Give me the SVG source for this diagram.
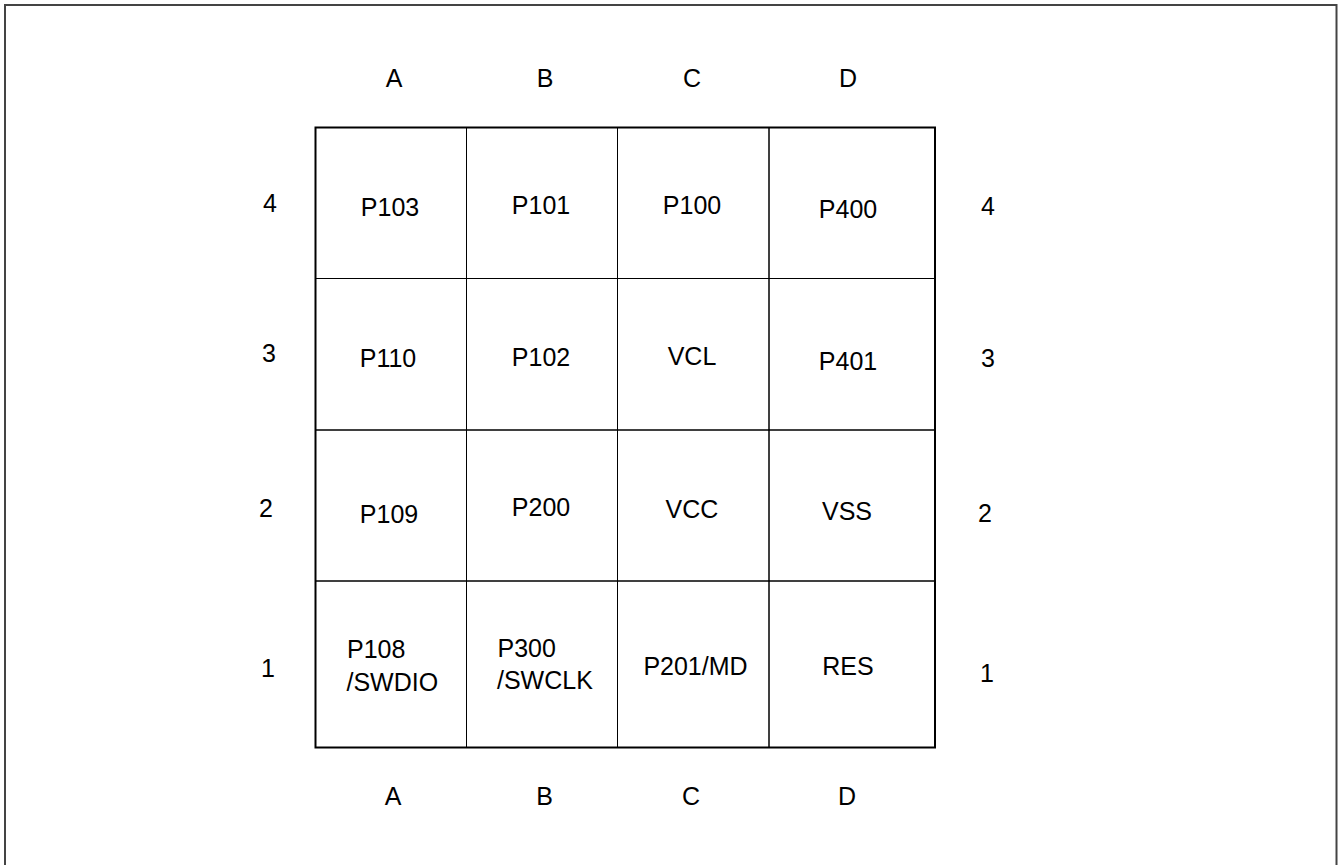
<svg xmlns="http://www.w3.org/2000/svg" width="1341" height="865" viewBox="0 0 1341 865">
<style>
text{font-family:"Liberation Sans",Arial,sans-serif;font-size:25px;fill:#000}
.c{text-anchor:middle}
.cell{fill:none;stroke:#000;stroke-width:1}
</style>
<rect width="1341" height="865" fill="#fff"/>
<rect x="5" y="5" width="1331.5" height="875" fill="none" stroke="#444" stroke-width="2"/>
<g id="labels">
<text class="c" x="394" y="87">A</text>
<text class="c" x="545" y="87">B</text>
<text class="c" x="692" y="87">C</text>
<text class="c" x="848" y="87">D</text>
<text class="c" x="393" y="805">A</text>
<text class="c" x="544.5" y="805">B</text>
<text class="c" x="691" y="805">C</text>
<text class="c" x="847" y="805">D</text>
<text class="c" x="270" y="212">4</text>
<text class="c" x="269" y="362">3</text>
<text class="c" x="266" y="517">2</text>
<text class="c" x="268" y="677">1</text>
<text class="c" x="988" y="215">4</text>
<text class="c" x="988" y="367">3</text>
<text class="c" x="985" y="522">2</text>
<text class="c" x="987" y="682">1</text>
</g>
<g id="grid">
<g id="A4"><rect class="cell" x="315.5" y="127.5" width="151" height="151"/><text class="c" x="390" y="216">P103</text></g>
<g id="B4"><rect class="cell" x="466.5" y="127.5" width="151" height="151"/><text class="c" x="541" y="214">P101</text></g>
<g id="C4"><rect class="cell" x="617.5" y="127.5" width="151.5" height="151"/><text class="c" x="692" y="214">P100</text></g>
<g id="D4"><rect class="cell" x="769" y="127.5" width="166" height="151"/><text class="c" x="848" y="218">P400</text></g>
<g id="A3"><rect class="cell" x="315.5" y="278.5" width="151" height="151.5"/><text class="c" x="388" y="367">P110</text></g>
<g id="B3"><rect class="cell" x="466.5" y="278.5" width="151" height="151.5"/><text class="c" x="541" y="366">P102</text></g>
<g id="C3"><rect class="cell" x="617.5" y="278.5" width="151.5" height="151.5"/><text class="c" x="692" y="365">VCL</text></g>
<g id="D3"><rect class="cell" x="769" y="278.5" width="166" height="151.5"/><text class="c" x="848" y="370">P401</text></g>
<g id="A2"><rect class="cell" x="315.5" y="430" width="151" height="151"/><text class="c" x="389" y="523">P109</text></g>
<g id="B2"><rect class="cell" x="466.5" y="430" width="151" height="151"/><text class="c" x="541" y="516">P200</text></g>
<g id="C2"><rect class="cell" x="617.5" y="430" width="151.5" height="151"/><text class="c" x="692" y="518">VCC</text></g>
<g id="D2"><rect class="cell" x="769" y="430" width="166" height="151"/><text class="c" x="847" y="520">VSS</text></g>
<g id="A1"><rect class="cell" x="315.5" y="581" width="151" height="166.5"/><text x="347" y="658">P108</text><text x="346.5" y="691">/SWDIO</text></g>
<g id="B1"><rect class="cell" x="466.5" y="581" width="151" height="166.5"/><text x="497.5" y="657">P300</text><text x="497" y="689">/SWCLK</text></g>
<g id="C1"><rect class="cell" x="617.5" y="581" width="151.5" height="166.5"/><text class="c" x="695.5" y="675">P201/MD</text></g>
<g id="D1"><rect class="cell" x="769" y="581" width="166" height="166.5"/><text class="c" x="848" y="675">RES</text></g>
<rect x="315.5" y="127.5" width="619.5" height="620" fill="none" stroke="#000" stroke-width="2"/>
</g>
</svg>
